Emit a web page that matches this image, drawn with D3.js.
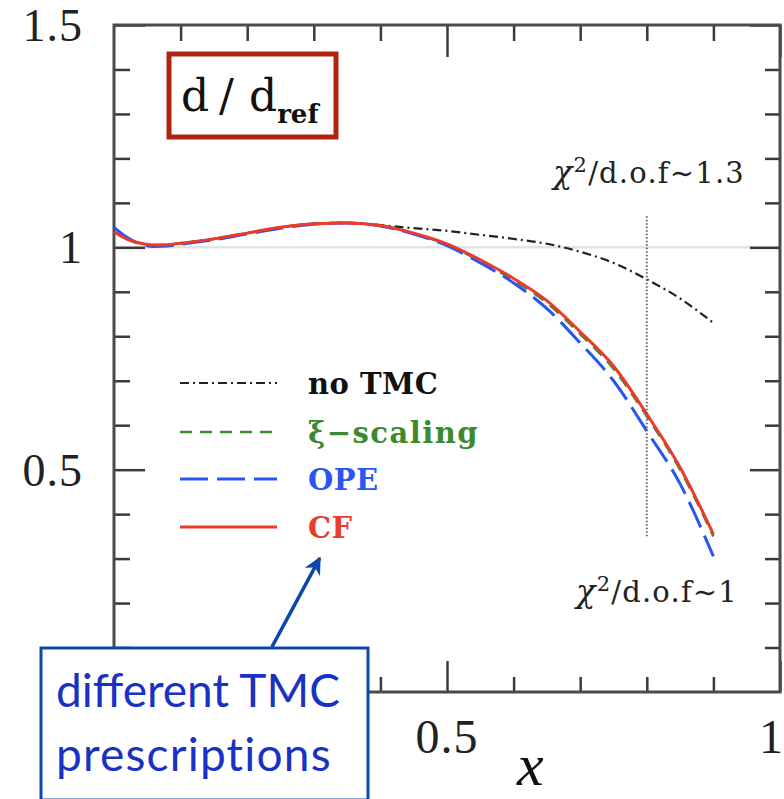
<!DOCTYPE html>
<html>
<head>
<meta charset="utf-8">
<script src="https://cdn.jsdelivr.net/npm/d3@7"></script>
<style>
  html, body { margin: 0; padding: 0; background: #fff; }
  svg { display: block; }
</style>
</head>
<body>
<svg id="chart" width="784" height="799"></svg>
<script>
// Ratio d/d_ref versus x for several target-mass-correction prescriptions
const xGrid = [0, 0.02, 0.04, 0.06, 0.08, 0.1, 0.15, 0.2, 0.25, 0.3, 0.35, 0.4, 0.45, 0.5, 0.55, 0.6, 0.65, 0.7, 0.75, 0.8, 0.85, 0.9];

const noTMC = [1.035, 1.018, 1.009, 1.005, 1.006, 1.009, 1.019, 1.032, 1.045, 1.053, 1.055, 1.050, 1.043, 1.037, 1.028, 1.019, 1.008, 0.990, 0.965, 0.928, 0.885, 0.830];
const xiScaling = [1.035, 1.018, 1.009, 1.005, 1.006, 1.009, 1.019, 1.032, 1.045, 1.053, 1.055, 1.049, 1.031, 1.006, 0.969, 0.926, 0.875, 0.805, 0.727, 0.620, 0.500, 0.350];
const ope = [1.045, 1.022, 1.007, 1.002, 1.003, 1.007, 1.017, 1.030, 1.043, 1.052, 1.055, 1.048, 1.030, 1.004, 0.965, 0.920, 0.862, 0.785, 0.700, 0.587, 0.468, 0.305];
const cf = [1.035, 1.018, 1.009, 1.005, 1.006, 1.009, 1.019, 1.032, 1.045, 1.053, 1.055, 1.049, 1.032, 1.008, 0.972, 0.930, 0.880, 0.810, 0.733, 0.625, 0.505, 0.355];

const seriesNames = ["no TMC", "\u03BE\u2212scaling", "OPE", "CF"];

const xMajorTicks = [0.5, 1];
const xTickLabels = ["0.5", "1"];
const yMajorTicks = [0.5, 1, 1.5];
const yTickLabels = ["0.5", "1", "1.5"];

// chi^2 marker at the upper cut in x
const cutX = 0.8;
const cutRange = [0.35, 1.07];
const chiLabelHigh = "1.3";
const chiLabelLow = "1";

const svg = d3.select("#chart");
const L = 114, R = 780, T = 25, B = 692;

const x = d3.scaleLinear().domain([0, 1]).range([L, R]);
const y = d3.scaleLinear().domain([0, 1.5]).range([B, T]);

const minorX = d3.range(0.1, 1.0, 0.1).map(v => +v.toFixed(1)).filter(v => v !== 0.5);
const minorY = d3.range(0.1, 1.5, 0.1).map(v => +v.toFixed(1)).filter(v => v !== 0.5 && v !== 1);

const axisColor = "#3a3a3a";

// reference line at 1
svg.append("line")
  .attr("x1", x(0)).attr("x2", x(1))
  .attr("y1", y(1)).attr("y2", y(1))
  .attr("stroke", "#e2e2e2").attr("stroke-width", 2.5);

// inward ticks on all four sides
function styleAxis(g) {
  g.select(".domain").remove();
  g.selectAll(".tick line").attr("stroke", axisColor).attr("stroke-width", 2.5);
  g.selectAll(".tick text").remove();
}
svg.append("g").attr("transform", `translate(0,${B})`)
  .call(d3.axisBottom(x).tickValues(minorX).tickSize(-15)).call(styleAxis);
svg.append("g").attr("transform", `translate(0,${B})`)
  .call(d3.axisBottom(x).tickValues(xMajorTicks).tickSize(-31)).call(styleAxis);
svg.append("g").attr("transform", `translate(0,${T})`)
  .call(d3.axisTop(x).tickValues(minorX).tickSize(-16)).call(styleAxis);
svg.append("g").attr("transform", `translate(0,${T})`)
  .call(d3.axisTop(x).tickValues(xMajorTicks).tickSize(-32)).call(styleAxis);
svg.append("g").attr("transform", `translate(${L},0)`)
  .call(d3.axisLeft(y).tickValues(minorY).tickSize(-16)).call(styleAxis);
svg.append("g").attr("transform", `translate(${L},0)`)
  .call(d3.axisLeft(y).tickValues(yMajorTicks).tickSize(-31)).call(styleAxis);
svg.append("g").attr("transform", `translate(${R},0)`)
  .call(d3.axisRight(y).tickValues(minorY).tickSize(-15)).call(styleAxis);
svg.append("g").attr("transform", `translate(${R},0)`)
  .call(d3.axisRight(y).tickValues(yMajorTicks).tickSize(-30)).call(styleAxis);

// frame
svg.append("rect")
  .attr("x", L).attr("y", T).attr("width", R - L).attr("height", B - T)
  .attr("fill", "none").attr("stroke", "#4a4a4a").attr("stroke-width", 3);

// tick labels
const tickFont = "'Liberation Serif', 'DejaVu Serif', serif";
svg.append("g").selectAll("text").data(yMajorTicks).join("text")
  .attr("x", 83).attr("y", d => y(d) + 16)
  .attr("text-anchor", "end")
  .attr("font-family", tickFont).attr("font-size", 46).attr("fill", "#222")
  .attr("letter-spacing", 1)
  .text((d, i) => yTickLabels[i]);
svg.append("g").selectAll("text").data(xMajorTicks).join("text")
  .attr("x", d => d === 1 ? 784 : x(d))
  .attr("y", 753)
  .attr("text-anchor", d => d === 1 ? "end" : "middle")
  .attr("font-family", tickFont).attr("font-size", 48).attr("fill", "#222")
  .attr("letter-spacing", 1)
  .text((d, i) => xTickLabels[i]);

// axis title
svg.append("text")
  .attr("x", x(0.625)).attr("y", 785)
  .attr("text-anchor", "middle")
  .attr("font-family", tickFont).attr("font-style", "italic")
  .attr("font-size", 60).attr("fill", "#111")
  .text("x");

// curves
svg.append("clipPath").attr("id", "plotClip")
  .append("rect").attr("x", L).attr("y", T).attr("width", R - L).attr("height", B - T);

const line = d3.line().x(d => x(d[0])).y(d => y(d[1])).curve(d3.curveMonotoneX);
const pairs = vals => xGrid.map((xv, i) => [xv, vals[i]]);

const styles = [
  { data: xiScaling, color: "#3c8a2e", width: 2.5, dash: "12,8" },
  { data: ope, color: "#2a55f5", width: 3, dash: "28,9" },
  { data: noTMC, color: "#222", width: 2.2, dash: "9,4,2,4" },
  { data: cf, color: "#ec3b2b", width: 3, dash: null }
];
const curves = svg.append("g").attr("clip-path", "url(#plotClip)");
styles.forEach(s => {
  curves.append("path")
    .attr("d", line(pairs(s.data)))
    .attr("fill", "none")
    .attr("stroke", s.color)
    .attr("stroke-width", s.width)
    .attr("stroke-dasharray", s.dash);
});

// chi^2 cut marker
svg.append("line")
  .attr("x1", x(cutX)).attr("x2", x(cutX))
  .attr("y1", y(cutRange[0])).attr("y2", y(cutRange[1]))
  .attr("stroke", "#666").attr("stroke-width", 2)
  .attr("stroke-dasharray", "1.5,2");

function chiLabel(xEnd, yBase, val) {
  const t = svg.append("text")
    .attr("x", xEnd).attr("y", yBase)
    .attr("text-anchor", "end")
    .attr("font-family", "'DejaVu Serif', serif").attr("font-size", 29)
    .attr("letter-spacing", 1.2).attr("fill", "#222");
  t.append("tspan").attr("font-style", "italic").attr("font-size", 32).text("\u03C7");
  t.append("tspan").attr("font-size", 21).attr("dy", -11).text("2");
  t.append("tspan").attr("dy", 11).text("/d.o.f\u223C" + val);
}
chiLabel(745, 183, chiLabelHigh);
chiLabel(738, 602, chiLabelLow);

// legend
const legendFont = "'DejaVu Serif', serif";
const legendYs = [383, 432, 479, 527];
const legend = svg.append("g");
const legendStyles = [styles[2], styles[0], styles[1], styles[3]];
legendStyles.forEach((s, i) => {
  legend.append("line")
    .attr("x1", 180).attr("x2", 277)
    .attr("y1", legendYs[i]).attr("y2", legendYs[i])
    .attr("stroke", s.color).attr("stroke-width", s.width)
    .attr("stroke-dasharray", s.dash);
  legend.append("text")
    .attr("x", 308).attr("y", legendYs[i] + 11)
    .attr("font-family", legendFont).attr("font-weight", "bold")
    .attr("font-size", 29).attr("fill", s.color === "#222" ? "#111" : s.color)
    .attr("letter-spacing", i === 1 ? 1.5 : 0.5)
    .text(seriesNames[i]);
});

// d/d_ref title box
const titleBox = svg.append("g");
titleBox.append("rect")
  .attr("x", 169).attr("y", 54).attr("width", 167).attr("height", 83)
  .attr("fill", "#fff").attr("stroke", "#b3220f").attr("stroke-width", 5);
const tt = titleBox.append("text")
  .attr("y", 111)
  .attr("font-family", "'DejaVu Serif', serif").attr("font-size", 44).attr("fill", "#111");
tt.append("tspan").attr("x", 181).text("d");
tt.append("tspan").attr("x", 219).text("/");
tt.append("tspan").attr("x", 249).text("d");
tt.append("tspan").attr("dy", 12).attr("font-size", 26).attr("font-weight", "bold").text("ref");

// annotation pointing at the legend
const annoColor = "#0c48a8";
const arrowFrom = [0.237, 0.101];
const arrowTo = [0.309, 0.301];
svg.append("defs").append("marker")
  .attr("id", "arrowHead").attr("viewBox", "0 0 10 10")
  .attr("refX", 9).attr("refY", 5)
  .attr("markerWidth", 5).attr("markerHeight", 5)
  .attr("orient", "auto")
  .append("path").attr("d", "M0,0 L10,5 L0,10 L3,5 Z").attr("fill", annoColor);
svg.append("line")
  .attr("x1", x(arrowFrom[0])).attr("y1", y(arrowFrom[1]))
  .attr("x2", x(arrowTo[0])).attr("y2", y(arrowTo[1]))
  .attr("stroke", annoColor).attr("stroke-width", 3.5)
  .attr("marker-end", "url(#arrowHead)");

svg.append("rect")
  .attr("x", 41).attr("y", 648).attr("width", 327).attr("height", 152)
  .attr("fill", "#fff").attr("stroke", annoColor).attr("stroke-width", 3);
const anno = svg.append("text")
  .attr("font-family", "Lato, 'Open Sans', sans-serif").attr("font-size", 46)
  .attr("fill", "#1932c4");
anno.append("tspan").attr("x", 56).attr("y", 707).text("different TMC");
anno.append("tspan").attr("x", 56).attr("y", 771).attr("letter-spacing", 1.2).text("prescriptions");
</script>
</body>
</html>
